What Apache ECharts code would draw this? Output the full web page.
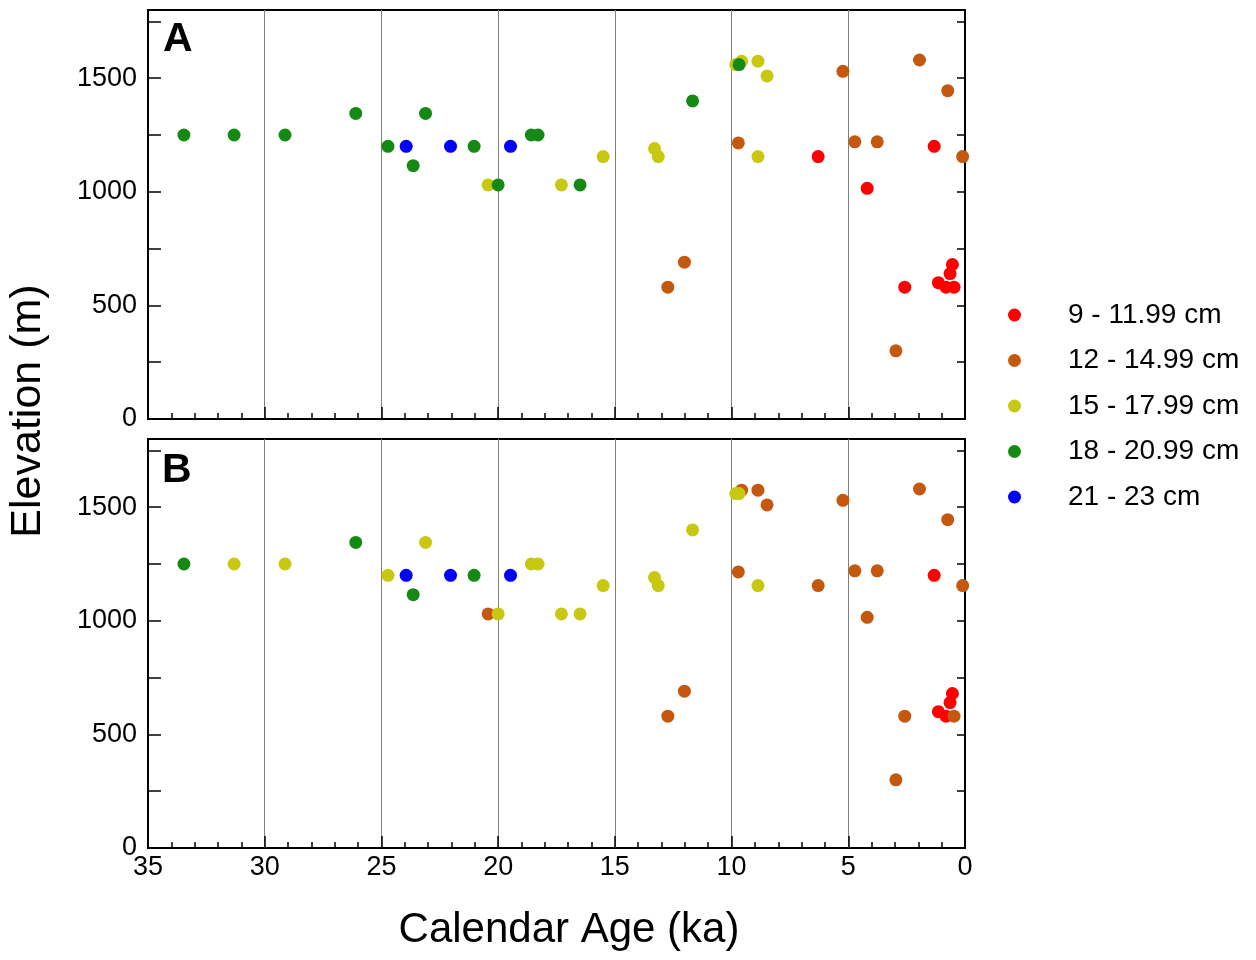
<!DOCTYPE html>
<html>
<head>
<meta charset="utf-8">
<script src="https://cdn.jsdelivr.net/npm/echarts@6/dist/echarts.min.js"></script>
<style>
  html, body { margin: 0; padding: 0; background: #fff; }
  #chart { width: 1256px; height: 960px; }
</style>
</head>
<body>
<div id="chart"></div>
<script>
// size classes (legend order) and their colours
const classNames = ['9 - 11.99 cm', '12 - 14.99 cm', '15 - 17.99 cm', '18 - 20.99 cm', '21 - 23 cm']
const classColors = ['#ff0000', '#c4580f', '#c8c812', '#148a14', '#0000ff']

// sample ages (ka) and elevations (m), same samples in both panels
const ages = [33.46, 31.31, 29.13, 26.10, 24.72, 23.94, 23.64, 23.11, 22.04, 21.03,
  20.43, 20.00, 19.47, 18.58, 18.29, 17.29, 16.49, 15.50, 13.30, 13.14,
  12.73, 12.02, 11.67, 9.82, 9.68, 9.57, 8.87, 8.48, 9.71, 8.87,
  6.29, 5.23, 4.72, 3.76, 4.19, 1.95, 0.74, 1.32, 0.10, 2.96,
  2.58, 1.14, 0.81, 0.47, 0.64, 0.54]
const elevations = [1250, 1250, 1250, 1345, 1200, 1200, 1115, 1345, 1200, 1200,
  1030, 1030, 1200, 1250, 1250, 1030, 1030, 1155, 1190, 1155,
  580, 690, 1400, 1560, 1560, 1575, 1575, 1510, 1215, 1155,
  1155, 1530, 1220, 1220, 1015, 1580, 1445, 1200, 1155, 300,
  580, 600, 580, 580, 640, 680]
// class index of each sample: panel A and panel B
const classA = [3, 3, 3, 3, 3, 4, 3, 3, 4, 3,
  2, 3, 4, 3, 3, 2, 3, 2, 2, 2,
  1, 1, 3, 2, 3, 2, 2, 2, 1, 2,
  0, 1, 1, 1, 0, 1, 1, 0, 1, 1,
  0, 0, 0, 0, 0, 0]
const classB = [3, 2, 2, 3, 2, 4, 3, 2, 4, 3,
  1, 2, 4, 2, 2, 2, 2, 2, 2, 2,
  1, 1, 2, 2, 2, 1, 1, 1, 1, 2,
  1, 1, 1, 1, 1, 1, 1, 0, 1, 1,
  1, 0, 0, 1, 0, 0]

const panelLetters = ['A', 'B']
const xTitle = 'Calendar Age (ka)'
const yTitle = 'Elevation (m)'

const font = "'Liberation Sans', Arial, Helvetica, sans-serif"

const chart = echarts.init(document.getElementById('chart'))

const grids = [
  { left: 148, top: 10, width: 817, height: 409 },
  { left: 148, top: 439, width: 817, height: 409 }
]

const makeX = (gridIndex, showLabels) => ({
  type: 'value',
  gridIndex: gridIndex,
  min: 0,
  max: 35,
  interval: 5,
  inverse: true,
  axisLine: { show: false, onZero: false },
  axisTick: { show: true, inside: true, length: 12, lineStyle: { color: '#000', width: 1.5 } },
  minorTick: { show: true, splitNumber: 5, length: 6, lineStyle: { color: '#000', width: 1.5 } },
  splitLine: { show: true, showMinLine: false, showMaxLine: false, lineStyle: { color: '#808080', width: 1 } },
  axisLabel: { show: showLabels, margin: 6, fontSize: 27, color: '#000', fontFamily: font }
})

const makeY = (gridIndex, position) => ({
  type: 'value',
  gridIndex: gridIndex,
  position: position,
  min: 0,
  max: 1800,
  interval: 250,
  axisLine: { show: false, onZero: false },
  axisTick: { show: true, inside: true, length: position === 'left' ? 13 : 8, lineStyle: { color: '#000', width: 1.5 } },
  splitLine: { show: false },
  axisLabel: {
    show: position === 'left',
    margin: 11,
    fontSize: 27,
    color: '#000',
    fontFamily: font,
    formatter: (v) => (v % 500 === 0 ? String(v) : '')
  }
})

const buildSeries = (classes, panel) =>
  classNames.map((name, c) => ({
    name: name,
    type: 'scatter',
    xAxisIndex: panel,
    yAxisIndex: panel * 2,
    symbol: 'circle',
    symbolSize: 13,
    itemStyle: { color: classColors[c], opacity: 1 },
    data: ages
      .map((a, i) => [a, elevations[i], classes[i]])
      .filter(d => d[2] === c)
      .map(d => [d[0], d[1]])
  }))

const option = {
  backgroundColor: '#fff',
  animation: false,
  grid: grids.map(g => Object.assign({ show: true, borderColor: '#000', borderWidth: 2, backgroundColor: 'transparent' }, g)),
  xAxis: [makeX(0, false), makeX(1, true)],
  yAxis: [makeY(0, 'left'), makeY(0, 'right'), makeY(1, 'left'), makeY(1, 'right')],
  legend: {
    orient: 'vertical',
    left: 1008,
    top: 300,
    padding: 0,
    itemGap: 15.5,
    itemWidth: 13,
    itemHeight: 13,
    icon: 'circle',
    data: classNames,
    textStyle: { fontSize: 28, lineHeight: 30, color: '#000', fontFamily: font, padding: [0, 0, 0, 42] }
  },
  graphic: [
    {
      type: 'text', left: 163, top: 19,
      style: { text: panelLetters[0], font: 'bold 41px ' + font, fill: '#000' }
    },
    {
      type: 'text', left: 162, top: 450,
      style: { text: panelLetters[1], font: 'bold 41px ' + font, fill: '#000' }
    },
    {
      type: 'text', x: 569, y: 930,
      style: { text: xTitle, font: '42px ' + font, fill: '#000', textAlign: 'center', textVerticalAlign: 'middle', align: 'center', verticalAlign: 'middle' }
    },
    {
      type: 'text', x: 28, y: 411, rotation: Math.PI / 2,
      style: { text: yTitle, font: '43px ' + font, fill: '#000', textAlign: 'center', textVerticalAlign: 'middle', align: 'center', verticalAlign: 'middle' }
    }
  ],
  series: [...buildSeries(classA, 0), ...buildSeries(classB, 1)]
}

chart.setOption(option)
</script>
</body>
</html>
